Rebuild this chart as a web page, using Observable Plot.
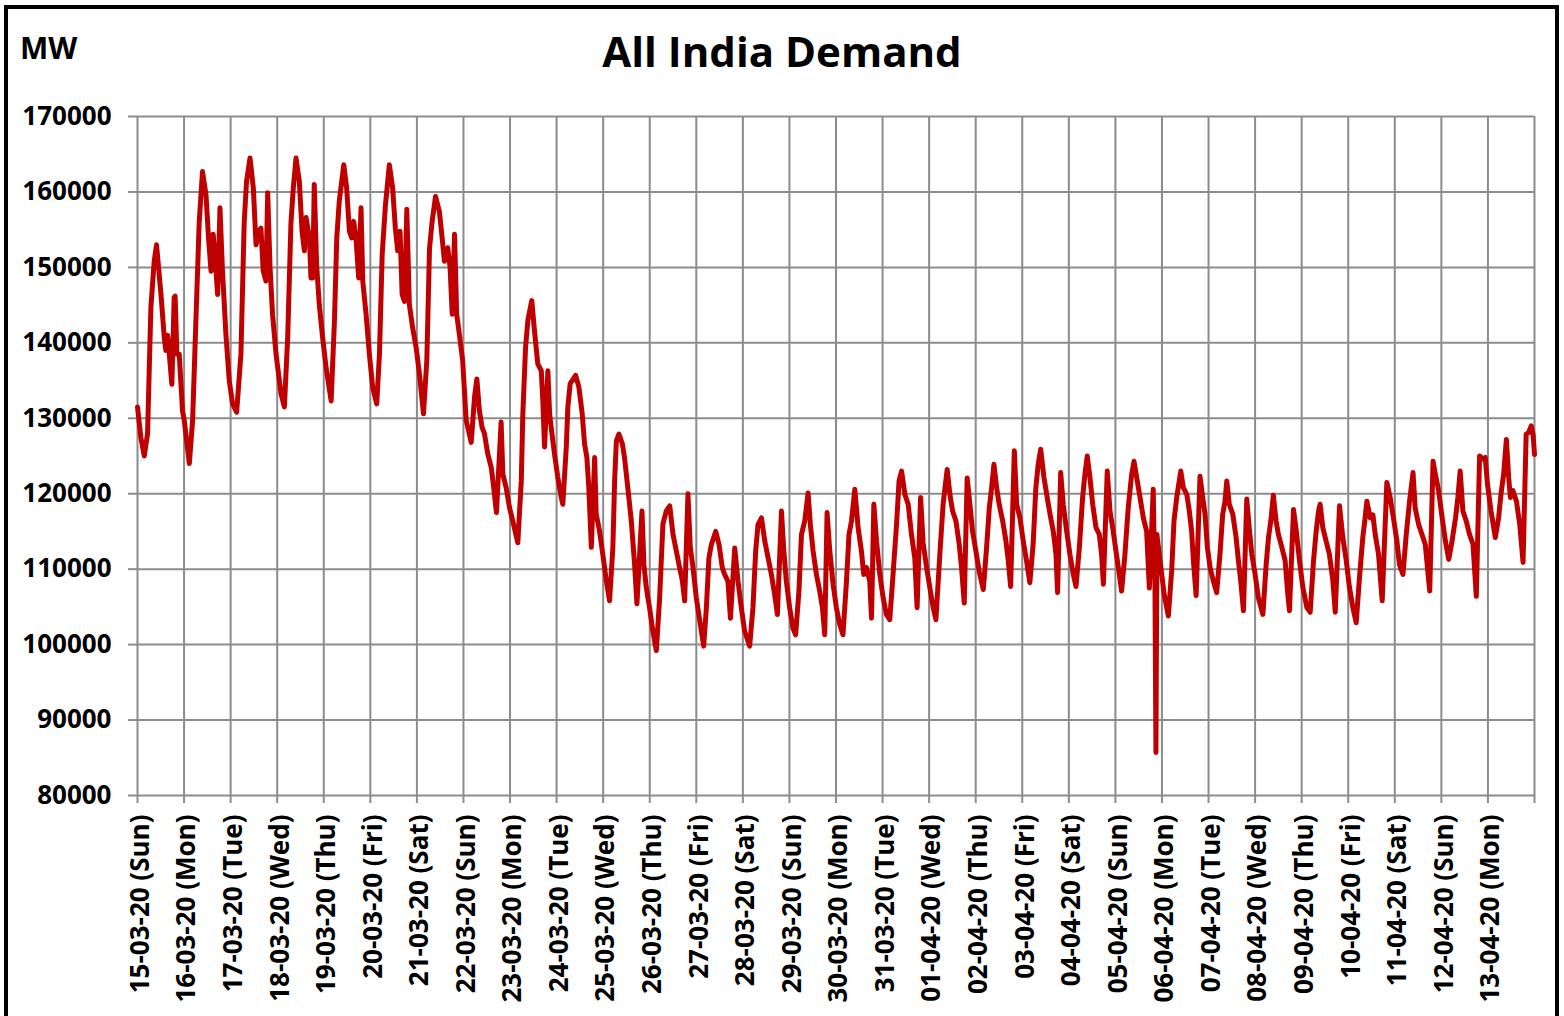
<!DOCTYPE html>
<html><head><meta charset="utf-8">
<script src="https://cdn.jsdelivr.net/npm/d3@7"></script>
<script src="https://cdn.jsdelivr.net/npm/@observablehq/plot@0.6"></script>
<style>
html,body{margin:0;padding:0;background:#fff;}
#wrap{position:relative;width:1564px;height:1016px;overflow:hidden;font-family:"Open Sans",sans-serif;background:#fff;}
#head{position:relative;height:96px;}
#title{position:absolute;left:0;top:30px;width:1564px;text-align:center;font-size:42px;line-height:42px;font-weight:700;color:#000;}
#unit{position:absolute;left:20px;top:33px;font-size:30px;line-height:30px;font-weight:700;color:#000;}
#frame{position:absolute;left:4px;top:5px;width:1555px;height:1100px;border:4px solid #000;box-sizing:border-box;pointer-events:none;}
#chart svg{display:block;}
</style></head>
<body><div id="wrap"><div id="head"><div id="unit">MW</div><div id="title">All India Demand</div></div><div id="chart"></div><div id="frame"></div></div>
<script>
// hours since 15-03-20 00:00
const hours = [
0,1.7,3.5,5.2,6.0,6.9,8.6,9.8,12.1,13.8,14.6,15.5,16.4,17.7,18.9,19.4,20.3,21.5,23.2,
24.1,26.7,28.4,30.1,31.8,33.5,35.3,36.6,37.9,39.0,40.1,41.3,42.5,43.8,45.6,47.3,
49.0,51.1,53.3,55.0,56.2,58.0,59.7,61.1,62.4,63.6,64.8,66.2,67.1,68.3,69.6,71.4,
74.0,75.7,77.4,79.1,80.3,81.7,83.4,84.8,86.0,86.9,88.6,89.4,90.3,91.1,92.3,93.7,95.4,
97.2,99.8,101.5,102.7,104.0,106.3,107.8,109.2,110.4,111.4,112.6,114.0,115.2,116.1,117.8,119.5,
121.2,123.3,124.7,126.1,127.8,129.8,131.5,132.9,134.1,135.3,136.4,137.6,138.8,140.1,141.8,143.6,
145.3,147.4,149.1,150.5,151.8,153.6,155.6,157.0,158.2,159.9,161.1,162.2,163.4,164.5,165.9,167.6,
169.4,172.0,173.7,174.9,176.2,177.6,178.8,180.5,182.3,183.5,185.0,187.4,188.3,190.0,191.7,
193.4,196.0,197.8,198.6,200.0,201.2,203.2,204.6,206.3,208.1,208.9,209.8,211.5,212.4,213.2,214.9,
216.6,218.4,219.2,221.0,221.8,223.0,225.8,227.5,229.2,230.4,231.6,232.6,233.9,235.6,236.4,238.1,
239.8,241.6,243.3,245.0,245.9,246.8,248.1,249.9,251.0,252.7,254.5,256.2,257.4,260.0,261.0,262.2,
263.9,265.6,267.4,269.1,270.8,272.5,274.3,276.0,277.7,279.4,280.8,282.0,283.7,284.9,286.3,288.0,
291.8,293.2,294.5,295.8,298.0,299.7,301.4,302.6,304.3,305.6,307.8,309.5,311.2,312.9,315.5,
317.2,318.6,319.8,321.6,323.3,325.0,326.7,328.4,329.8,331.9,333.1,334.4,336.1,337.8,339.2,
340.9,342.2,343.9,345.6,346.8,348.2,349.9,351.6,353.0,354.2,355.4,356.8,358.5,360.2,361.9,363.6,
365.4,366.7,368.0,369.7,371.4,373.1,374.3,375.7,377.4,378.3,379.5,380.9,382.6,384.3,386.0,387.7,
389.4,391.2,392.5,393.8,395.5,397.2,398.9,400.6,401.8,403.6,404.9,406.7,408.4,410.1,411.5,
413.5,415.2,416.6,417.3,418.7,420.1,421.8,423.5,424.7,426.1,427.6,429.0,430.4,432.1,433.8,435.9,
437.6,439.0,440.2,441.4,442.8,444.1,445.9,447.6,448.8,450.0,451.9,453.1,454.8,456.5,458.2,459.9,
461.6,463.0,464.2,465.5,467.2,468.6,470.3,472.0,473.4,474.2,475.8,477.1,478.9,480.6,482.3,483.7,
485.4,487.1,488.3,489.5,490.9,492.3,494.0,495.7,496.9,497.8,499.8,501.2,502.6,504.3,505.8,507.2,
508.9,510.6,512.4,513.6,515.0,516.7,518.4,520.1,521.5,523.5,523.9,524.4,524.9,525.4,526.6,527.9,
529.1,531.3,533.0,534.2,535.6,537.7,539.0,540.8,542.1,543.3,544.2,545.6,547.6,549.0,550.2,551.4,
552.8,554.5,556.2,557.9,559.3,560.5,561.4,562.7,564.5,566.2,567.4,568.6,570.0,571.7,573.1,574.3,
576.0,577.7,580.0,581.7,582.9,584.1,585.4,586.8,588.0,589.8,591.5,592.7,593.7,595.8,597.2,598.9,
600.6,602.7,604.4,606.1,607.5,608.7,609.5,610.9,612.6,614.3,616.1,617.3,619.5,621.2,623.0,624.6,
626.4,628.1,629.8,631.5,632.7,633.6,635.3,636.7,637.9,639.6,641.5,643.9,645.6,647.3,649.1,650.4,
652.2,653.9,655.6,657.4,658.5,660.3,662.0,663.7,666.0,667.7,668.9,670.6,672.4,674.1,675.8,
677.5,679.3,680.5,681.7,683.1,684.8,686.5,688.3,690.0,691.7,693.5,694.6,695.8,697.6,699.8,
701.5,702.7,704.1,705.5,706.7,707.6,708.9,710.7,712.4,714.1,715.7,717.0,718.3,719.3,720.0
];
// All India demand, MW
const demand = [
131500,127500,125000,128000,136000,144700,150800,153000,146400,140700,139000,141000,138500,134500,146000,146200,138500,138500,131000,
129700,124000,129700,142900,156000,162700,159600,153900,149500,154400,150800,146400,157900,149500,141000,135000,
131900,130800,138500,156000,161400,164500,160500,153000,154800,155200,149500,148200,159900,150000,143800,138500,
133200,131500,140700,156000,160500,164500,161400,154800,152200,156600,153900,148600,148600,161000,150400,145000,140700,
136700,132300,142900,153900,158800,163600,160500,154800,153900,156100,153900,148600,157900,148200,143800,138500,
134100,131900,138500,151700,158300,163600,160500,155200,152200,154800,146400,145500,157700,145100,142000,139400,
135900,130600,137600,152500,156000,159400,157400,153900,150800,152600,150000,143800,154400,143800,141100,137600,
129700,126800,132800,135200,131000,128800,128000,125300,123500,121000,117500,129500,122600,120800,118200,
116400,113500,121700,130600,139400,143000,145600,141600,137200,136300,132300,126200,136300,130600,128800,125300,
122200,119500,118600,126200,131500,134600,135700,134100,130600,126600,124800,120800,112900,124800,117300,115100,
112000,108500,105800,112900,121700,127000,127900,126600,124800,120800,116400,110600,105400,117700,110600,107600,
104900,101800,99200,106200,116000,117700,118400,114600,112400,110200,108500,105800,120000,112900,110200,106200,
99800,104900,111500,113300,115000,113300,110200,109300,108400,103500,112800,108400,104900,101800,99800,
104900,112400,115900,116800,113700,111500,109300,106600,104000,117700,112400,108400,104900,102200,101300,
107100,114600,116400,120100,115900,112400,109300,107100,104900,101300,117500,112400,108000,104900,102700,101300,
108400,114600,116400,120600,115500,112400,109300,110200,108400,103500,118600,113700,109300,106200,104000,103300,
109300,115900,121700,123000,119900,118600,114600,111500,104900,119500,113500,110200,107500,104900,103300,
111900,118600,121700,123200,119900,117700,116400,113300,110200,105500,122100,118600,115000,112400,109700,107300,
112800,118100,120800,123900,120800,118600,116400,113700,111100,107700,125700,118600,116800,113700,111100,108200,
113300,120800,123900,125900,122100,119900,117300,115000,111900,106900,122800,118600,115000,111900,109300,107700,
112800,119500,122600,125000,122100,118600,115500,114600,111900,108000,123000,117700,115500,112400,109700,107100,
111900,118100,122600,124300,122100,119500,116800,115000,107500,120600,114200,107600,85700,114600,112000,109300,
106700,103800,109800,116400,119500,123000,120800,119900,117700,115000,111100,106500,122300,119500,117300,112900,
110200,108400,106900,112000,117300,119000,121700,118600,117300,114200,111100,108400,104500,119300,115100,112000,
109300,106200,104000,110600,114200,116400,119800,116400,114600,112900,111100,107100,104500,117900,115100,111100,
107600,104900,104300,111100,115100,117700,118600,115500,113700,112000,108400,104300,118400,114200,111100,107600,
104900,102900,108900,114200,116800,119000,116800,117200,114600,112000,105800,121500,119500,116800,113700,110600,
109300,114600,119000,122800,118100,115900,114600,113300,107100,124300,122600,120400,116800,113700,111300,
113700,116800,119500,123000,117700,116400,114600,113300,106400,125000,124600,124800,121200,117700,114200,
116800,119900,122600,127200,122100,119500,120400,119000,115900,110900,127900,128100,129000,127800,125200
];
const dayLabels = [
"15-03-20 (Sun)","16-03-20 (Mon)","17-03-20 (Tue)","18-03-20 (Wed)","19-03-20 (Thu)","20-03-20 (Fri)",
"21-03-20 (Sat)","22-03-20 (Sun)","23-03-20 (Mon)","24-03-20 (Tue)","25-03-20 (Wed)","26-03-20 (Thu)",
"27-03-20 (Fri)","28-03-20 (Sat)","29-03-20 (Sun)","30-03-20 (Mon)","31-03-20 (Tue)","01-04-20 (Wed)",
"02-04-20 (Thu)","03-04-20 (Fri)","04-04-20 (Sat)","05-04-20 (Sun)","06-04-20 (Mon)","07-04-20 (Tue)",
"08-04-20 (Wed)","09-04-20 (Thu)","10-04-20 (Fri)","11-04-20 (Sat)","12-04-20 (Sun)","13-04-20 (Mon)"
];
const yTicks = [80000,90000,100000,110000,120000,130000,140000,150000,160000,170000];

const data = hours.map((h, i) => ({day: h / 24, mw: demand[i]}));
const dayTicks = d3.range(0, dayLabels.length + 1);
const labelTicks = d3.range(0, dayLabels.length);

const chart = Plot.plot({
  width: 1564,
  height: 920,
  marginLeft: 137,
  marginRight: 30,
  marginTop: 20,
  marginBottom: 221,
  style: {fontFamily: "'Open Sans', sans-serif", fontSize: "26px", fontWeight: "700", color: "#000", background: "transparent", overflow: "visible"},
  x: {domain: [0, dayLabels.length]},
  y: {domain: [yTicks[0], yTicks[yTicks.length - 1]]},
  marks: [
    Plot.gridX(dayTicks, {stroke: "#8c8c8c", strokeOpacity: 1, strokeWidth: 2}),
    Plot.gridY(yTicks, {stroke: "#8c8c8c", strokeOpacity: 1, strokeWidth: 2}),
    Plot.axisX(dayTicks, {tickSize: 8, tickFormat: () => "", stroke: "#8c8c8c", strokeWidth: 2, label: null}),
    Plot.axisX(labelTicks, {tickSize: 0, tickPadding: 19, tickRotate: -90, tickFormat: d => dayLabels[d], fill: "#000", fontSize: 26, fontWeight: 700, dx: 3, label: null}),
    Plot.axisY(yTicks, {tickSize: 9, tickPadding: 17, tickFormat: d => String(d), stroke: "#8c8c8c", strokeWidth: 2, fill: "#000", fontSize: 26, fontWeight: 700, label: null}),
    Plot.line(data, {x: "day", y: "mw", stroke: "#C00000", strokeWidth: 5, strokeLinejoin: "round", strokeLinecap: "round"})
  ]
});
document.getElementById("chart").appendChild(chart);
</script>
</body></html>
